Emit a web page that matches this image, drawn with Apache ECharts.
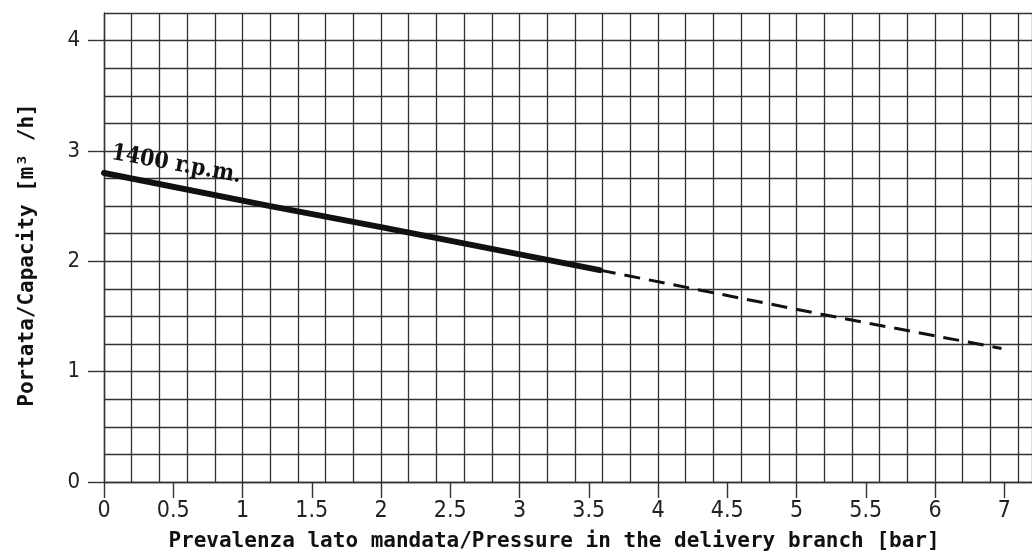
<!DOCTYPE html>
<html>
<head>
<meta charset="utf-8">
<script src="https://cdn.jsdelivr.net/npm/echarts@6/dist/echarts.min.js"></script>
<style>
  html, body { margin: 0; padding: 0; background: #fff; }
  #chart { width: 1032px; height: 558px; }
</style>
</head>
<body>
<div id="chart"></div>
<script>
// pressure [bar] vs capacity [m3/h]
const solidCurve = [[0, 2.80], [1.2, 2.50], [2.0, 2.31], [3.58, 1.92]];
const dashedCurve = [[3.58, 1.92], [5.18, 1.52], [6.48, 1.21]];

// the drawing labels the last tick "7" where 6.5 would be
const xTickValues = [0, 0.5, 1, 1.5, 2, 2.5, 3, 3.5, 4, 4.5, 5, 5.5, 6, 6.5];
const xTickLabels = ['0', '0.5', '1', '1.5', '2', '2.5', '3', '3.5', '4', '4.5', '5', '5.5', '6', '7'];
const yTickValues = [0, 1, 2, 3, 4];
const yTickLabels = ['0', '1', '2', '3', '4'];

const gridColor = '#333';
const tickFont = "'Liberation Sans Narrow', 'DejaVu Sans Condensed', sans-serif";
const titleFont = "'DejaVu Sans Mono', monospace";

const chart = echarts.init(document.getElementById('chart'));

const option = {
  animation: false,
  grid: { left: 104, right: 0, top: 13, bottom: 76 },
  xAxis: [
    {
      type: 'value',
      min: 0,
      max: 6.7,
      position: 'bottom',
      axisLine: { show: true, onZero: false, lineStyle: { color: gridColor, width: 1.4 } },
      axisTick: {
        show: true, inside: false, length: 16,
        customValues: xTickValues,
        lineStyle: { color: gridColor, width: 1.4 }
      },
      axisLabel: {
        customValues: xTickValues,
        margin: 18,
        color: '#222',
        fontSize: 23,
        fontFamily: tickFont,
        formatter: function (v) {
          const i = xTickValues.findIndex(t => Math.abs(t - v) < 1e-6);
          return i >= 0 ? xTickLabels[i] : '';
        }
      },
      splitLine: { show: false },
      name: 'Prevalenza lato mandata/Pressure in the delivery branch [bar]',
      nameLocation: 'middle',
      nameGap: 49,
      nameTextStyle: {
        fontFamily: titleFont,
        fontWeight: 'bold',
        fontSize: 21,
        color: '#111',
        padding: [0, 28, 0, 0]
      }
    },
    {
      type: 'value',
      min: 0,
      max: 6.7,
      interval: 0.2,
      position: 'bottom',
      axisLine: { show: false },
      axisTick: { show: false },
      axisLabel: { show: false },
      splitLine: { show: true, lineStyle: { color: gridColor, width: 1.3 } }
    }
  ],
  yAxis: [
    {
      type: 'value',
      min: 0,
      max: 4.25,
      position: 'left',
      axisLine: { show: true, onZero: false, lineStyle: { color: gridColor, width: 1.4 } },
      axisTick: {
        show: true, inside: false, length: 16,
        customValues: yTickValues,
        lineStyle: { color: gridColor, width: 1.4 }
      },
      axisLabel: {
        customValues: yTickValues,
        margin: 24,
        color: '#222',
        fontSize: 22,
        fontFamily: tickFont,
        formatter: function (v) {
          const i = yTickValues.findIndex(t => Math.abs(t - v) < 1e-6);
          return i >= 0 ? yTickLabels[i] : '';
        }
      },
      splitLine: { show: false },
      name: 'Portata/Capacity [m³ /h]',
      nameLocation: 'middle',
      nameRotate: 90,
      nameGap: 66,
      nameTextStyle: {
        fontFamily: titleFont,
        fontWeight: 'bold',
        fontSize: 21,
        color: '#111',
        padding: [0, 15, 0, 0]
      }
    },
    {
      type: 'value',
      min: 0,
      max: 4.25,
      interval: 0.25,
      position: 'left',
      axisLine: { show: false },
      axisTick: { show: false },
      axisLabel: { show: false },
      splitLine: { show: true, lineStyle: { color: gridColor, width: 1.3 } }
    }
  ],
  series: [
    {
      type: 'line',
      xAxisIndex: 0,
      yAxisIndex: 0,
      data: solidCurve,
      showSymbol: false,
      lineStyle: { color: '#111', width: 6, cap: 'round' },
      z: 5
    },
    {
      type: 'line',
      xAxisIndex: 0,
      yAxisIndex: 0,
      data: dashedCurve,
      showSymbol: false,
      lineStyle: { color: '#111', width: 3, type: [16, 9] },
      z: 5
    }
  ]
};

chart.setOption(option);

// speed label placed along the curve
const p = chart.convertToPixel({ xAxisIndex: 0, yAxisIndex: 0 }, [0.04, 2.88]);
chart.setOption({
  graphic: [{
    type: 'text',
    x: p[0],
    y: p[1],
    rotation: -0.18,
    z: 10,
    style: {
      text: '1400 r.p.m.',
      fill: '#111',
      font: "bold 23px 'DejaVu Serif Condensed', 'DejaVu Serif', serif",
      textVerticalAlign: 'bottom',
      textAlign: 'left'
    }
  }]
});
</script>
</body>
</html>
